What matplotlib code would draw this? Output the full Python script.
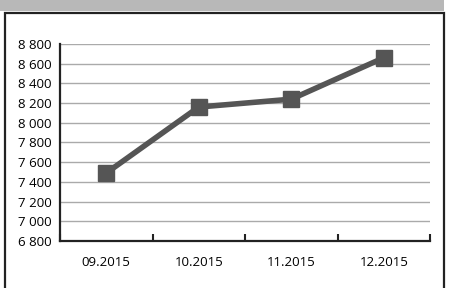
import numpy as np
import matplotlib.pyplot as plt
from matplotlib.patches import Rectangle

months = ['09.2015', '10.2015', '11.2015', '12.2015']
values = [7490, 8160, 8240, 8660]
yticks = [6800, 7000, 7200, 7400, 7600, 7800, 8000, 8200, 8400, 8600, 8800]

plt.rcParams['font.family'] = ['Open Sans', 'DejaVu Sans']

fig = plt.figure(figsize=(4.5, 2.88), dpi=100)

# grey header band and the frame around the chart
fig.add_artist(Rectangle((0, 1 - 11 / 288), 444 / 450, 11 / 288, transform=fig.transFigure,
                         facecolor='#b8b8b8', edgecolor='none'))
fig.add_artist(Rectangle((5 / 450, -0.2), 439 / 450, 1.2 - 13 / 288, transform=fig.transFigure,
                         facecolor='none', edgecolor='#222222', lw=1.6))

ax = fig.add_axes([60 / 450, 1 - 241 / 288, 370 / 450, 197 / 288])
x = np.arange(len(months))
ax.plot(x, values, color='#555555', lw=4, marker='s', ms=11, zorder=3)

ax.set_xlim(-0.5, len(months) - 0.5)
ax.set_ylim(6800, 8800)
ax.set_yticks(yticks)
ax.set_yticklabels([f'{v:,}'.replace(',', ' ') for v in yticks], fontsize=9.5)
ax.set_xticks(np.arange(-0.5, len(months)))
ax.set_xticklabels([])
ax.set_xticks(x, minor=True)
ax.set_xticklabels(months, minor=True, fontsize=9.5)
ax.tick_params(axis='x', which='major', direction='in', length=5, width=1.5, color='#222222')
ax.tick_params(axis='x', which='minor', length=0, pad=11)
ax.tick_params(axis='y', length=0, pad=6)

ax.grid(axis='y', color='#aaaaaa', lw=1)
ax.set_axisbelow(True)
for s in ['top', 'right']:
    ax.spines[s].set_visible(False)
for s in ['left', 'bottom']:
    ax.spines[s].set_linewidth(1.6)
    ax.spines[s].set_color('#222222')

fig.savefig('out.png', dpi=100)
